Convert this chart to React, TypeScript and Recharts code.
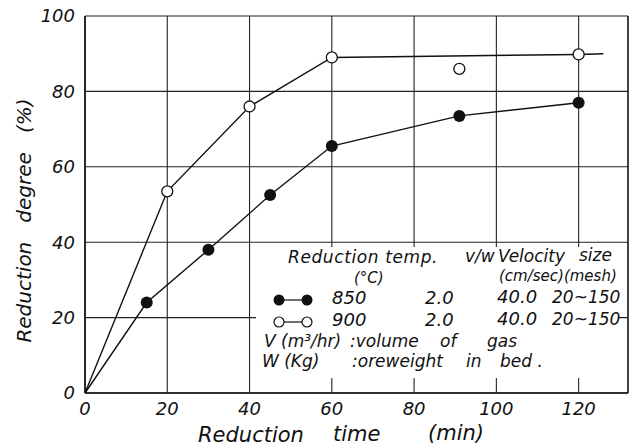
import { ComposedChart, Line, Scatter, XAxis, YAxis, CartesianGrid, ReferenceLine } from 'recharts';

const time850 = [0, 15, 30, 45, 60, 91, 120];
const degree850 = [0, 24, 38, 52.5, 65.5, 73.5, 77];
const time900 = [0, 20, 40, 60, 120, 126];
const degree900 = [0, 53.5, 76, 89, 89.8, 90];
const strayTime900 = [91];
const strayDegree900 = [86];

const xTicks = [0, 20, 40, 60, 80, 100, 120];
const yTicks = [0, 20, 40, 60, 80, 100];

const temps = ['850', '900'];
const vw = ['2.0', '2.0'];
const velocity = ['40.0', '40.0'];
const sizes = ['20~150', '20~150'];

const FONT = '"DejaVu Sans", sans-serif';
const INK = '#111';

const toPoints = (xs: number[], ys: number[]) => xs.map((x, i) => ({ x, y: ys[i] }));

const data850 = toPoints(time850, degree850);
const data900 = toPoints(time900, degree900);
const stray900 = toPoints(strayTime900, strayDegree900);

const filledDot = (props: any) => {
  const { cx, cy, index } = props;
  if (index === 0) return <g key={`f-${index}`} />;
  return <circle key={`f-${index}`} cx={cx} cy={cy} r={6} fill={INK} />;
};

const openDot = (props: any) => {
  const { cx, cy, index } = props;
  if (index === 0 || index === time900.length - 1) return <g key={`o-${index}`} />;
  return <circle key={`o-${index}`} cx={cx} cy={cy} r={5.5} fill="#fff" stroke={INK} strokeWidth={1.3} />;
};

const tickStyle = { fontSize: 18, fontStyle: 'italic', fill: INK, fontFamily: FONT };

function Legend() {
  const t = { fontFamily: FONT, fontStyle: 'italic', fontSize: 17, fill: INK } as const;
  const rowY = [304, 326];
  return (
    <svg width={634} height={447} style={{ position: 'absolute', left: 0, top: 0, pointerEvents: 'none' }}>
      <rect x={256} y={247} width={362} height={131} fill="#fff" />
      <text x={288} y={263} {...t} letterSpacing={0.6}>Reduction temp.</text>
      <text x={465} y={262} {...t}>v/w</text>
      <text x={498} y={262} {...t}>Velocity</text>
      <text x={579} y={261} {...t}>size</text>
      <text x={354} y={283} {...t} fontSize={15}>(°C)</text>
      <text x={499} y={281} {...t} fontSize={15}>(cm/sec)(mesh)</text>
      {temps.map((tp, i) => (
        <g key={tp}>
          <line x1={279} x2={307} y1={rowY[i] - 4} y2={rowY[i] - 4} stroke={INK} strokeWidth={1.2} />
          {i === 0 ? (
            <>
              <circle cx={279} cy={rowY[i] - 4} r={5.5} fill={INK} />
              <circle cx={307} cy={rowY[i] - 4} r={5.5} fill={INK} />
            </>
          ) : (
            <>
              <circle cx={279} cy={rowY[i] - 4} r={5} fill="#fff" stroke={INK} strokeWidth={1.2} />
              <circle cx={307} cy={rowY[i] - 4} r={5} fill="#fff" stroke={INK} strokeWidth={1.2} />
            </>
          )}
          <text x={332} y={rowY[i]} {...t} fontSize={18}>{tp}</text>
          <text x={425} y={rowY[i]} {...t} fontSize={18}>{vw[i]}</text>
          <text x={497} y={rowY[i] - 1} {...t} fontSize={18}>{velocity[i]}</text>
          <text x={552} y={rowY[i] - 1} {...t}>{sizes[i]}</text>
        </g>
      ))}
      <text x={264} y={347} {...t}>V (m³/hr)</text>
      <text x={350} y={347} {...t}>:volume</text>
      <text x={440} y={347} {...t}>of</text>
      <text x={487} y={347} {...t}>gas</text>
      <text x={262} y={367} {...t}>W (Kg)</text>
      <text x={352} y={367} {...t}>:oreweight</text>
      <text x={466} y={367} {...t}>in</text>
      <text x={500} y={367} {...t}>bed .</text>
    </svg>
  );
}

export default function App() {
  return (
    <div style={{ position: 'absolute', left: 0, top: 0, width: 634, height: 447, background: '#fff' }}>
      <ComposedChart width={634} height={447} margin={{ top: 16, right: 6, left: 0, bottom: 24 }}>
        <CartesianGrid stroke="#222" strokeWidth={1.1} horizontalValues={yTicks} verticalValues={xTicks} />
        <XAxis
          dataKey="x"
          type="number"
          domain={[0, 132]}
          ticks={xTicks}
          height={30}
          tickSize={0}
          tickMargin={9}
          tick={tickStyle}
          axisLine={{ stroke: INK, strokeWidth: 1.6 }}
          label={(p: any) => {
            const x0 = p.viewBox.x;
            const s = { fontFamily: FONT, fontStyle: 'italic', fontSize: 21, fill: INK } as const;
            return (
              <g>
                <text x={x0 + 113} y={442} {...s}>Reduction</text>
                <text x={x0 + 248} y={441} {...s}>time</text>
                <text x={x0 + 343} y={440} {...s}>(min)</text>
              </g>
            );
          }}
        />
        <YAxis
          type="number"
          domain={[0, 100]}
          ticks={yTicks}
          width={85}
          tickSize={0}
          tickMargin={10}
          tick={tickStyle}
          axisLine={{ stroke: INK, strokeWidth: 1.6 }}
          label={(p: any) => {
            const vb = p.viewBox;
            const cy = vb.y + vb.height / 2 + 16;
            return (
              <text x={31} y={cy} textAnchor="middle" transform={`rotate(-90 31 ${cy})`} fontFamily={FONT} fontStyle="italic" fontSize={20} fill={INK} style={{ whiteSpace: 'pre' }}>
                {'Reduction   degree   (%)'}
              </text>
            );
          }}
        />
        <ReferenceLine x={132} stroke={INK} strokeWidth={1.6} />
        <Line data={data850} dataKey="y" stroke={INK} strokeWidth={1.4} dot={filledDot} isAnimationActive={false} />
        <Line data={data900} dataKey="y" stroke={INK} strokeWidth={1.4} dot={openDot} isAnimationActive={false} />
        <Scatter
          data={stray900}
          dataKey="y"
          isAnimationActive={false}
          shape={(p: any) => <circle cx={p.cx} cy={p.cy} r={5.5} fill="#fff" stroke={INK} strokeWidth={1.3} />}
        />
      </ComposedChart>
      <Legend />
    </div>
  );
}
